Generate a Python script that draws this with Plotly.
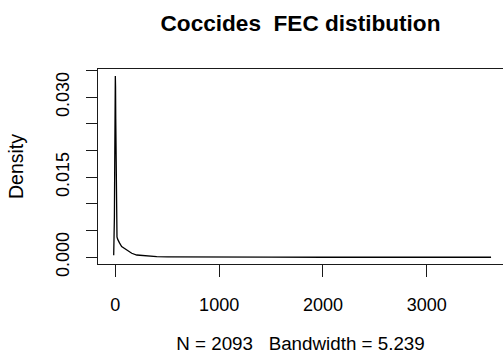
import plotly.graph_objects as go

# Kernel density estimate of coccidia faecal egg counts (eggs per gram)
fec_x = [-15.7, -12, -9, -6, -4, -2, 0, 2, 4, 6, 9, 12, 16, 22, 29, 40,
         61, 93, 125, 158, 206, 250, 302, 399, 500, 720, 1000, 1500, 2000,
         2500, 3000, 3300, 3620]
fec_density = [0.0004, 0.0025, 0.0075, 0.017, 0.024, 0.031, 0.034, 0.032,
               0.026, 0.019, 0.010, 0.0055, 0.0038, 0.0034, 0.0032, 0.0027,
               0.0020, 0.0016, 0.0012, 0.00075, 0.00043, 0.00033, 0.00024,
               0.00012, 0.00009, 0.00005, 0.00003, 0.00002, 0.00001,
               0.00001, 0.00001, 0.00001, 0.00001]

x_ticks = [0, 1000, 2000, 3000]
y_ticks = [0.000, 0.005, 0.010, 0.015, 0.020, 0.025, 0.030, 0.035]
y_labels = ["0.000", "", "", "0.015", "", "", "0.030", ""]

title_text = "Coccides\u00a0\u00a0FEC distibution"
x_title = "N = 2093\u00a0\u00a0\u00a0Bandwidth = 5.239"
y_title = "Density"

FONT = "Liberation Sans, Arial, Helvetica, sans-serif"
INK = "#1a1a1a"

fig = go.Figure(
    go.Scatter(
        x=fec_x, y=fec_density, mode="lines",
        line=dict(color="black", width=1.3),
        hoverinfo="skip", showlegend=False,
    )
)

fig.update_layout(
    width=503, height=356,
    margin=dict(l=98, r=0, t=69, b=92, pad=0),
    paper_bgcolor="white", plot_bgcolor="white",
    font=dict(family=FONT, size=18, color="black"),
    title=dict(
        text=title_text, x=0.5, xref="paper", xanchor="center",
        y=1 - 23 / 356, yref="container", yanchor="middle",
        font=dict(family=FONT, size=22.6, color="black", weight="bold"),
    ),
)

fig.update_xaxes(
    range=[-167, 3735], showgrid=False, zeroline=False,
    showline=True, mirror=True, linecolor=INK, linewidth=1,
    ticks="outside", ticklen=12, tickwidth=1, tickcolor=INK,
    tickvals=x_ticks, ticktext=[str(v) for v in x_ticks],
    tickfont=dict(size=18), ticklabelstandoff=12,
    title=dict(text=x_title, standoff=23, font=dict(size=18.8)),
    automargin=False,
)

fig.update_yaxes(
    range=[-0.00126, 0.0353], showgrid=False, zeroline=False,
    showline=True, mirror=False, linecolor=INK, linewidth=1,
    ticks="outside", ticklen=11, tickwidth=1, tickcolor=INK,
    tickvals=y_ticks, ticktext=y_labels, tickangle=-90,
    tickfont=dict(size=18), ticklabelstandoff=10,
    title=dict(text=y_title, standoff=23, font=dict(size=19.5)),
    automargin=False,
)

fig.write_html("out.html")
